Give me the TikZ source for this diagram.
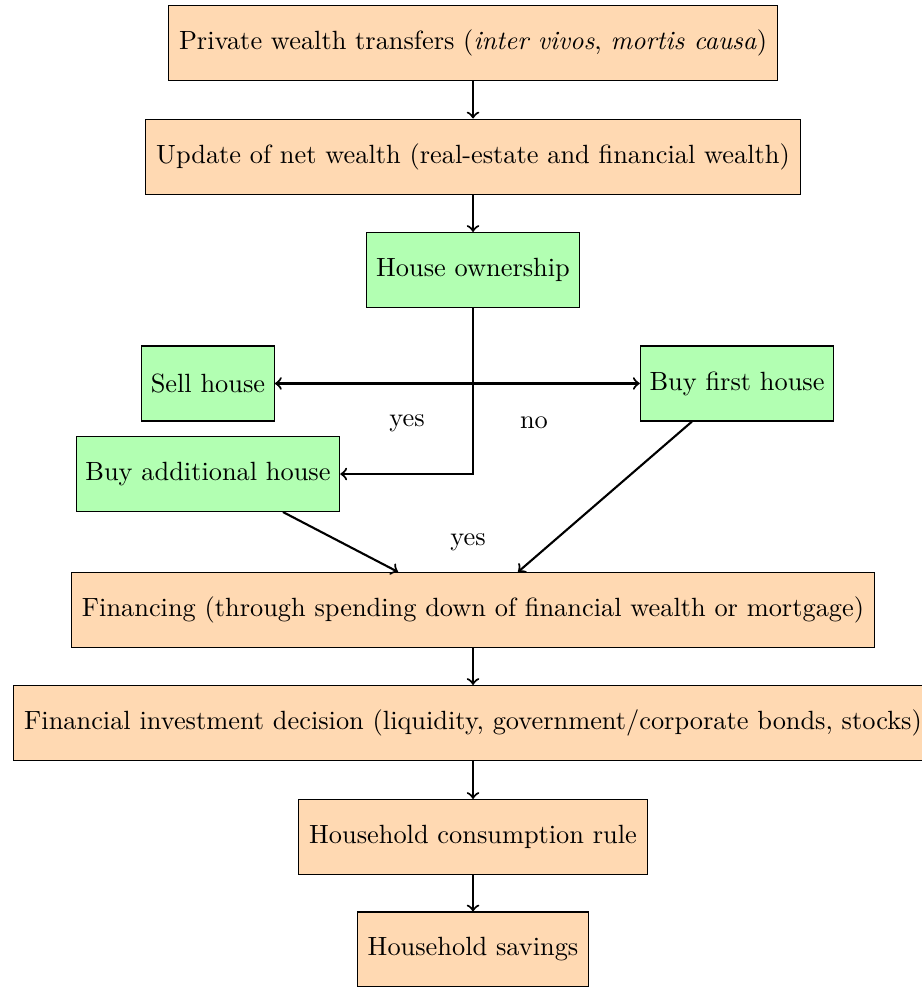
\documentclass[tikz,border=0pt]{standalone}
\usetikzlibrary{calc}
\definecolor{boxorange}{rgb}{1,0.85,0.7}
\definecolor{boxgreen}{rgb}{0.7,1,0.7}
\begin{document}
\begin{tikzpicture}[
  stage/.style={draw, fill=boxorange, minimum height=1cm, inner ysep=3.33pt, inner xsep=3.9pt},
  choice/.style={draw, fill=boxgreen, minimum height=1cm, inner ysep=3.33pt, inner xsep=3.5pt},
  link/.style={thick, ->},
  lbl/.style={inner sep=0pt}
]
\useasboundingbox (0,0) rectangle (12.293,-13.16);

\node[stage]  (transfers) at (6.307,-0.567) {Private wealth transfers (\textit{inter vivos}, \textit{mortis causa})};
\node[stage]  (update)    at (6.307,-2.087) {Update of net wealth (real-estate and financial wealth)};
\node[choice] (own)       at (6.307,-3.600) {House ownership};
\node[choice] (sell)      at (2.773,-5.113) {Sell house};
\node[choice] (first)     at (9.827,-5.113) {Buy first house};
\node[choice] (addl)      at (2.773,-6.320) {Buy additional house};
\node[stage]  (fin)       at (6.307,-8.133) {Financing (through spending down of financial wealth or mortgage)};
\node[stage]  (invest)    at (6.307,-9.640) {Financial investment decision (liquidity, government/corporate bonds, stocks)};
\node[stage]  (cons)      at (6.307,-11.160) {Household consumption rule};
\node[stage]  (sav)       at (6.307,-12.660) {Household savings};

\draw[link] (transfers) -- (update);
\draw[link] (update) -- (own);
\draw[thick, <->] (sell.east) -- (first.west);
\draw[link] (own.south) -- (own.south |- addl.east) -- (addl.east);
\draw[link] ($(addl.south)+(1.0,0)$) -- ($(fin.north)+(-1.0,0)$);
\draw[link] ($(first.south)+(-0.6,0)$) -- ($(fin.north)+(0.6,0)$);
\draw[link] (fin) -- (invest);
\draw[link] (invest) -- (cons);
\draw[link] (cons) -- (sav);

\node[lbl] (yesleft)  at (5.427,-5.640) {yes};
\node[lbl] (noright)  at (7.120,-5.640) {no};
\node[lbl] (yeslower) at (6.240,-7.227) {yes};
\end{tikzpicture}
\end{document}
